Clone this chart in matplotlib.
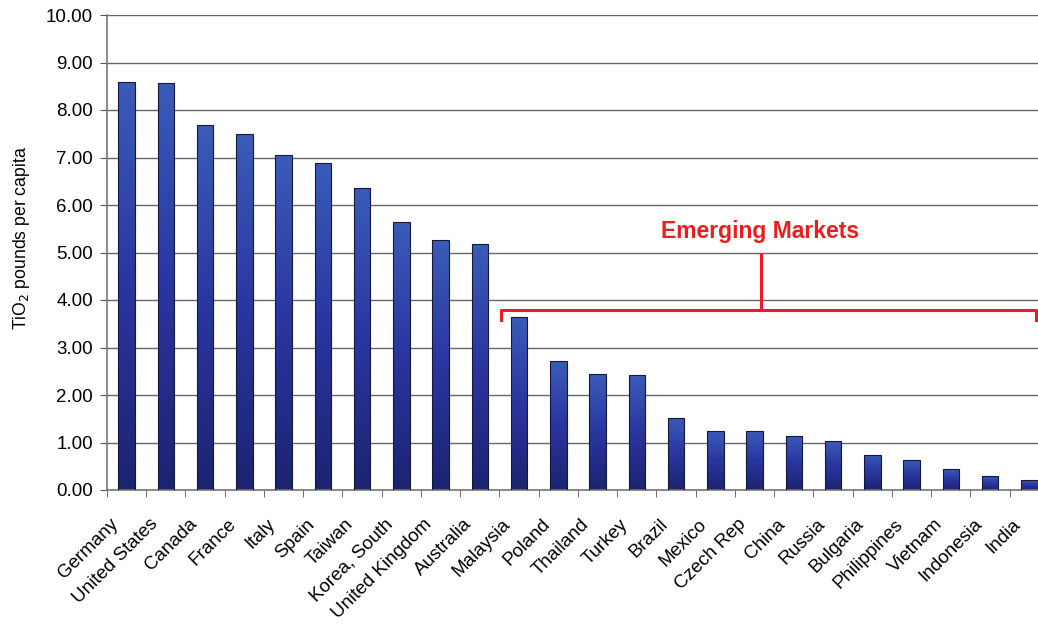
import numpy as np
import matplotlib.pyplot as plt
from matplotlib.colors import LinearSegmentedColormap
from matplotlib.transforms import ScaledTranslation

plt.rcParams['font.family'] = ['Liberation Sans', 'DejaVu Sans']

countries = ["Germany", "United States", "Canada", "France", "Italy", "Spain",
             "Taiwan", "Korea, South", "United Kingdom", "Australia", "Malaysia",
             "Poland", "Thailand", "Turkey", "Brazil", "Mexico", "Czech Rep",
             "China", "Russia", "Bulgaria", "Philippines", "Vietnam",
             "Indonesia", "India"]
values = [8.59, 8.57, 7.68, 7.49, 7.05, 6.88, 6.36, 5.64, 5.26, 5.18, 3.64,
          2.72, 2.44, 2.42, 1.52, 1.24, 1.24, 1.14, 1.03, 0.74, 0.63, 0.44,
          0.29, 0.21]

fig = plt.figure(figsize=(10.38, 6.26), dpi=100)
ax = fig.add_axes([107/1038, 1 - 490/626, 931/1038, 475/626])

x = np.arange(len(countries))
width = 0.42
cmap = LinearSegmentedColormap.from_list("bar", ["#1c2470", "#2a35a0", "#3a5cb8"])
grad = np.linspace(0, 1, 256).reshape(-1, 1)

bars = ax.bar(x, values, width=width, color="none", edgecolor="#14183c",
              linewidth=0.8, zorder=3)
for b in bars:
    bx, by = b.get_x(), b.get_y()
    bw, bh = b.get_width(), b.get_height()
    im = ax.imshow(grad, cmap=cmap, aspect="auto", origin="lower",
                   extent=[bx, bx + bw, by, by + bh], zorder=2)
    im.set_clip_path(b)

ax.set_xlim(-0.48, 23.22)
ax.set_ylim(0, 10)
ax.set_yticks(np.arange(0, 11, 1))
ax.set_yticklabels([f"{v:.2f}" for v in range(11)], fontsize=13.5)
ax.yaxis.grid(True, color="#666666", linewidth=1.0, zorder=0)
ax.set_axisbelow(True)

ax.set_xticks(x)
ax.set_xticklabels(countries, rotation=45, ha="right", rotation_mode="anchor",
                   fontsize=13.5)
ax.tick_params(axis="x", length=0, pad=12)
shift = ScaledTranslation(-0.17, -0.09, fig.dpi_scale_trans)
for lab in ax.get_xticklabels():
    lab.set_transform(lab.get_transform() + shift)
ax.set_xticks(np.arange(-0.5, 23.5, 1), minor=True)
ax.tick_params(axis="x", which="minor", length=5, color="#555555")
ax.tick_params(axis="y", length=5, color="#555555", pad=5)

for s in ["top", "right"]:
    ax.spines[s].set_visible(False)
for s in ["left", "bottom"]:
    ax.spines[s].set_color("#777777")
    ax.spines[s].set_linewidth(1.2)

ax.set_ylabel("TiO$_2$ pounds per capita", fontsize=12.7)
ax.yaxis.set_label_coords(-0.081, 0.53)

# Emerging markets bracket
red = "#ee1c1c"
x0, x1, yb = 9.55, 23.17, 3.79
ax.plot([x0, x0, x1, x1], [3.58, yb, yb, 3.58], color=red, lw=2.2,
        zorder=5, clip_on=False)
xm = 16.15
ax.plot([xm, xm], [yb, 4.95], color=red, lw=2.2, zorder=5)
ax.text(xm, 5.2, "Emerging Markets", color=red, fontsize=16.5,
        fontweight="bold", ha="center", va="bottom", zorder=5)

fig.savefig("out.png", dpi=100)
